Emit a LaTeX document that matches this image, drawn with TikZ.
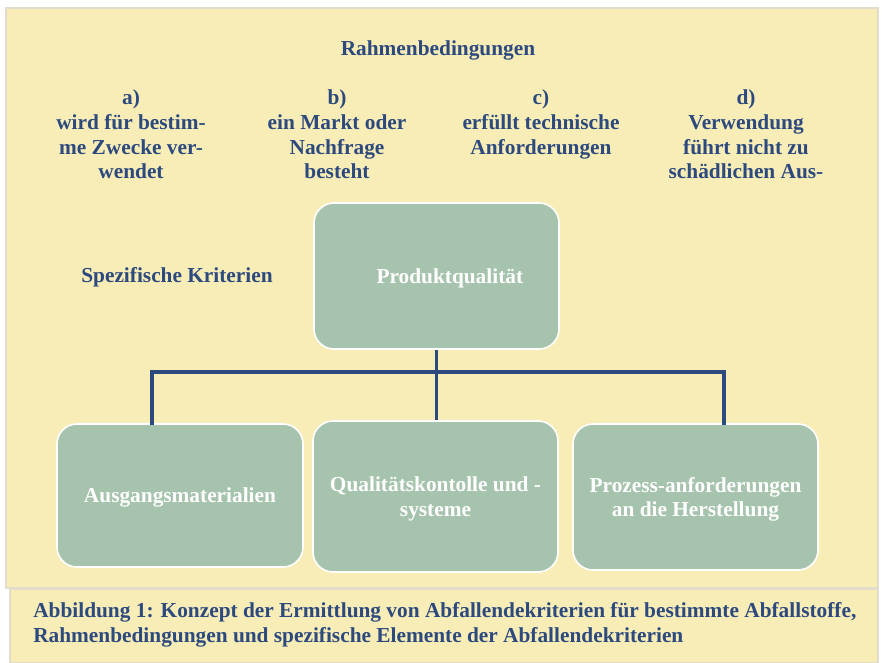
\documentclass[tikz,border=0pt]{standalone}
\usepackage{fontspec}
\setmainfont{Liberation Serif}
\definecolor{bgyellow}{HTML}{F9EDB7}
\definecolor{boxgreen}{HTML}{A6C4AD}
\definecolor{navy}{HTML}{2C4A7E}
\definecolor{edgegray}{HTML}{E2DDCB}
\tikzset{
  lbl/.style={font=\fontsize{16}{18.6}\selectfont\bfseries, text=navy, align=center, inner sep=0pt},
  greenbox/.style={draw=white, line width=1.2pt, fill=boxgreen, rounded corners=15pt,
    font=\fontsize{16}{18.6}\selectfont\bfseries, text=white, align=center, inner sep=0pt, text depth=-1pt},
  conn/.style={draw=navy, line width=2.4pt}
}
\begin{document}
\begin{tikzpicture}[x=0.75pt, y=-0.75pt]
\useasboundingbox (0,0) rectangle (883,662);
\fill[white] (0,0) rectangle (883,662);
\fill[bgyellow, draw=edgegray, line width=0.8pt] (6,8) rectangle (878,588);
\fill[bgyellow, draw=edgegray, line width=0.8pt] (10,589) rectangle (878,663);

\node[lbl] (rahmen) at (438,50) {Rahmenbedingungen};
\node[lbl, anchor=north] (ca) at (131,89.5) {a)\\wird für bestim-\\me Zwecke ver-\\wendet};
\node[lbl, anchor=north] (cb) at (337,89.5) {b)\\ein Markt oder\\Nachfrage\\besteht};
\node[lbl, anchor=north] (cc) at (541,89.5) {c)\\erfüllt technische\\Anforderungen};
\node[lbl, anchor=north] (cd) at (746,89.5) {d)\\Verwendung\\führt nicht zu\\schädlichen Aus-};

\node[lbl] (spez) at (177,277) {Spezifische Kriterien};

\coordinate (lbar) at (152,372);
\coordinate (rbar) at (724,372);
\coordinate (lend) at (152,425);
\coordinate (rend) at (724,425);

\node[greenbox, minimum width=245*0.75pt, minimum height=146*0.75pt] (pq) at (436.5,276) {\hspace*{20pt}Produktqualität};
\node[greenbox, minimum width=246*0.75pt, minimum height=143*0.75pt] (ausg) at (180,495.5) {Ausgangsmaterialien};
\node[greenbox, minimum width=245*0.75pt, minimum height=151*0.75pt] (qual) at (435.5,496.5) {Qualitätskontolle und -\\systeme};
\node[greenbox, minimum width=245*0.75pt, minimum height=146*0.75pt] (proz) at (695.5,497) {Prozess-anforderungen\\an die Herstellung};

\draw[conn] (pq.south) -- (pq.south |- qual.north);
\draw[conn] (lend) -- (lbar) -- (rbar) -- (rend);

\node[lbl, align=left, anchor=north west] (cap) at (33,602) {Abbildung 1: Konzept der Ermittlung von Abfallendekriterien für bestimmte Abfallstoffe,\\Rahmenbedingungen und spezifische Elemente der Abfallendekriterien};
\end{tikzpicture}
\end{document}
